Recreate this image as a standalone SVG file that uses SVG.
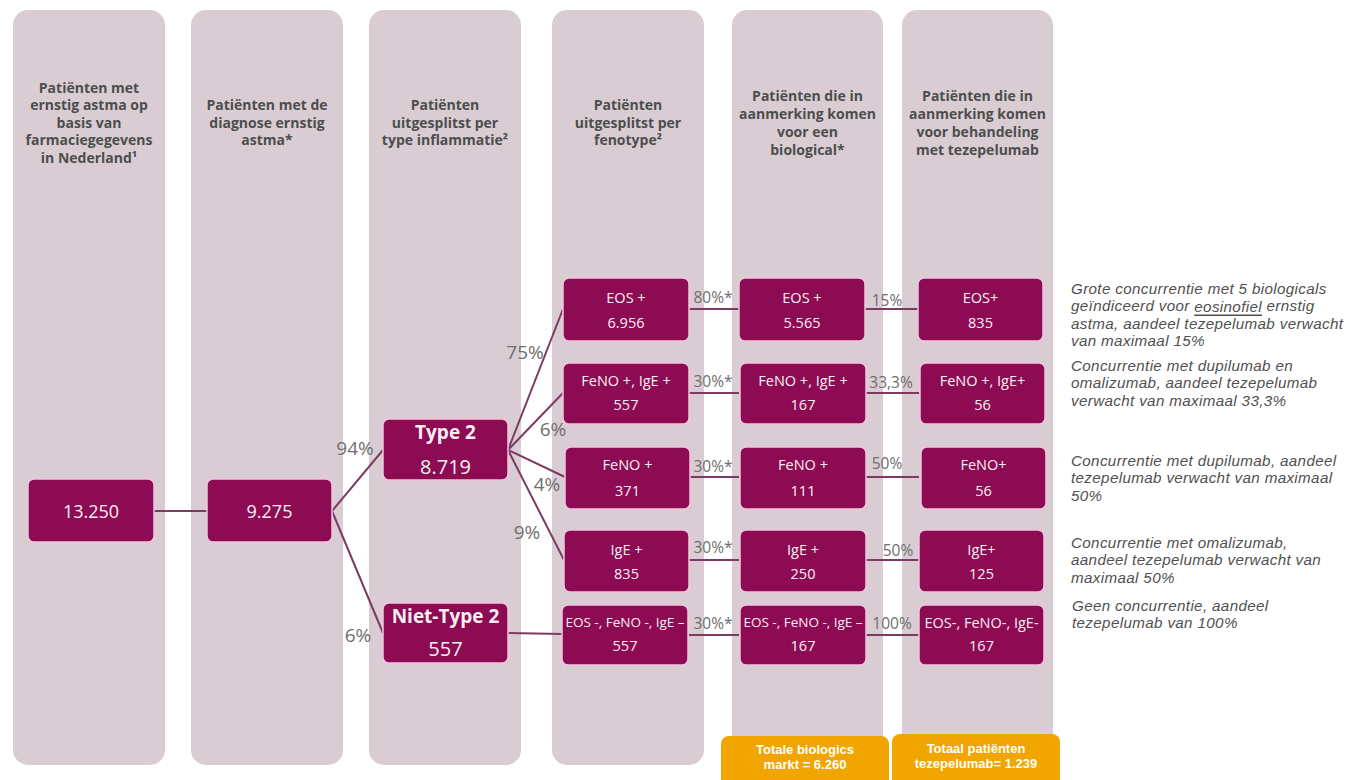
<svg xmlns="http://www.w3.org/2000/svg" width="1353" height="780" viewBox="0 0 1353 780">
<style>
.lane{fill:#D9CDD3}
.hdr{font-family:"Open Sans","DejaVu Sans",sans-serif;font-weight:bold;font-size:14px;fill:#4D4D4D;text-anchor:middle;dominant-baseline:central}
.box{fill:#8C0B52;stroke:#F2C4DF;stroke-width:1.5}
.nt{font-family:"Open Sans","DejaVu Sans",sans-serif;font-size:14.5px;fill:#FBEFF5;text-anchor:middle;dominant-baseline:central}
.sm{font-size:13.5px}
.big{font-size:18px}
.num{font-size:20px}
.b{font-weight:bold;font-size:19px}
.conn{stroke:#7E3A61;stroke-width:2;fill:none}
.pct{font-family:"Open Sans","DejaVu Sans",sans-serif;font-size:15.5px;fill:#6E6E6E;text-anchor:middle;dominant-baseline:central}
.pl{font-size:19px}
.note{font-family:"Liberation Sans","Open Sans",sans-serif;font-style:italic;font-size:15.2px;letter-spacing:0.35px;fill:#505050;dominant-baseline:central}
.tot{fill:#F0A500}
.tt{font-family:"Liberation Sans","Open Sans",sans-serif;font-weight:bold;font-size:13px;fill:#FFFFFF;text-anchor:middle;dominant-baseline:central}
</style>
<g id="lanes">
<rect class="lane" x="13" y="10" width="152" height="755" rx="15"/>
<rect class="lane" x="191" y="10" width="152" height="755" rx="15"/>
<rect class="lane" x="369" y="10" width="152" height="755" rx="15"/>
<rect class="lane" x="552" y="10" width="152" height="755" rx="15"/>
<rect class="lane" x="732" y="10" width="151" height="750" rx="15"/>
<rect class="lane" x="902" y="10" width="151" height="750" rx="15"/>
</g>
<g id="headers">
<text class="hdr" x="89" y="87">Patiënten met</text>
<text class="hdr" x="89" y="104.5">ernstig astma op</text>
<text class="hdr" x="89" y="122">basis van</text>
<text class="hdr" x="89" y="139.5">farmaciegegevens</text>
<text class="hdr" x="89" y="157">in Nederland¹</text>
<text class="hdr" x="267" y="104.5">Patiënten met de</text>
<text class="hdr" x="267" y="122">diagnose ernstig</text>
<text class="hdr" x="267" y="139.5">astma*</text>
<text class="hdr" x="445" y="104.5">Patiënten</text>
<text class="hdr" x="445" y="122">uitgesplitst per</text>
<text class="hdr" x="445" y="139.5">type inflammatie²</text>
<text class="hdr" x="628" y="104.5">Patiënten</text>
<text class="hdr" x="628" y="122">uitgesplitst per</text>
<text class="hdr" x="628" y="139.5">fenotype²</text>
<text class="hdr" x="807.5" y="95">Patiënten die in</text>
<text class="hdr" x="807.5" y="113">aanmerking komen</text>
<text class="hdr" x="807.5" y="131">voor een</text>
<text class="hdr" x="807.5" y="149">biological*</text>
<text class="hdr" x="977.5" y="95">Patiënten die in</text>
<text class="hdr" x="977.5" y="113">aanmerking komen</text>
<text class="hdr" x="977.5" y="131">voor behandeling</text>
<text class="hdr" x="977.5" y="149">met tezepelumab</text>
</g>
<g id="connectors">
<line class="conn" x1="154" y1="511" x2="207" y2="511"/>
<line class="conn" x1="332" y1="511" x2="383" y2="450"/>
<line class="conn" x1="332" y1="511" x2="383" y2="633"/>
<line class="conn" x1="508" y1="450" x2="563" y2="309"/>
<line class="conn" x1="508" y1="450" x2="563" y2="393"/>
<line class="conn" x1="508" y1="450" x2="565" y2="477"/>
<line class="conn" x1="508" y1="450" x2="564" y2="560"/>
<line class="conn" x1="508" y1="633" x2="563" y2="634"/>
<line class="conn" x1="689" y1="309" x2="739" y2="309"/>
<line class="conn" x1="689" y1="393" x2="739" y2="393"/>
<line class="conn" x1="689" y1="477" x2="739" y2="477"/>
<line class="conn" x1="689" y1="560" x2="739" y2="560"/>
<line class="conn" x1="689" y1="635" x2="739" y2="635"/>
<line class="conn" x1="865" y1="309" x2="919" y2="309"/>
<line class="conn" x1="865" y1="393" x2="919" y2="393"/>
<line class="conn" x1="865" y1="477" x2="919" y2="477"/>
<line class="conn" x1="865" y1="560" x2="919" y2="560"/>
<line class="conn" x1="865" y1="635" x2="919" y2="635"/>
<text class="pct pl" x="355" y="448">94%</text>
<text class="pct pl" x="358" y="635">6%</text>
<text class="pct pl" x="525" y="352">75%</text>
<text class="pct pl" x="553" y="429">6%</text>
<text class="pct pl" x="547" y="484">4%</text>
<text class="pct pl" x="527" y="532">9%</text>
<text class="pct" x="713" y="297">80%*</text>
<text class="pct" x="713" y="381">30%*</text>
<text class="pct" x="713" y="466">30%*</text>
<text class="pct" x="713" y="547">30%*</text>
<text class="pct" x="713" y="623">30%*</text>
<text class="pct" x="887" y="300">15%</text>
<text class="pct" x="891" y="382">33,3%</text>
<text class="pct" x="887" y="463">50%</text>
<text class="pct" x="898" y="550">50%</text>
<text class="pct" x="892" y="623">100%</text>
</g>
<g id="n-13250"><rect class="box" x="28" y="479" width="126" height="63" rx="6"/><text class="nt big" x="91" y="510.5">13.250</text></g>
<g id="n-9275"><rect class="box" x="207" y="479" width="125" height="63" rx="6"/><text class="nt big" x="269.5" y="510.5">9.275</text></g>
<g id="n-type2"><rect class="box" x="383" y="419" width="125" height="61" rx="6"/><text class="nt b" x="445.5" y="432">Type 2</text><text class="nt num" x="445.5" y="466">8.719</text></g>
<g id="n-niettype2"><rect class="box" x="383" y="603" width="125" height="60" rx="6"/><text class="nt b" x="445.5" y="616">Niet-Type 2</text><text class="nt num" x="445.5" y="648">557</text></g>
<g id="n-c4-eos"><rect class="box" x="563" y="278" width="126" height="63" rx="6"/><text class="nt" x="626" y="297">EOS +</text><text class="nt" x="626" y="322">6.956</text></g>
<g id="n-c4-fenoige"><rect class="box" x="563" y="363" width="126" height="61" rx="6"/><text class="nt" x="626" y="380">FeNO +, IgE +</text><text class="nt" x="626" y="404">557</text></g>
<g id="n-c4-feno"><rect class="box" x="565" y="447" width="125" height="62" rx="6"/><text class="nt" x="627.5" y="464">FeNO +</text><text class="nt" x="627.5" y="490">371</text></g>
<g id="n-c4-ige"><rect class="box" x="564" y="530" width="125" height="62" rx="6"/><text class="nt" x="626.5" y="549">IgE +</text><text class="nt" x="626.5" y="573">835</text></g>
<g id="n-c4-neg"><rect class="box" x="562" y="605" width="126" height="60" rx="6"/><text class="nt sm" x="625" y="622">EOS -, FeNO -, IgE –</text><text class="nt" x="625" y="645">557</text></g>
<g id="n-c5-eos"><rect class="box" x="739" y="278" width="126" height="63" rx="6"/><text class="nt" x="802" y="297">EOS +</text><text class="nt" x="802" y="322">5.565</text></g>
<g id="n-c5-fenoige"><rect class="box" x="740" y="363" width="126" height="61" rx="6"/><text class="nt" x="803" y="380">FeNO +, IgE +</text><text class="nt" x="803" y="404">167</text></g>
<g id="n-c5-feno"><rect class="box" x="740" y="447" width="126" height="62" rx="6"/><text class="nt" x="803" y="464">FeNO +</text><text class="nt" x="803" y="490">111</text></g>
<g id="n-c5-ige"><rect class="box" x="740" y="530" width="126" height="62" rx="6"/><text class="nt" x="803" y="549">IgE +</text><text class="nt" x="803" y="573">250</text></g>
<g id="n-c5-neg"><rect class="box" x="740" y="605" width="126" height="60" rx="6"/><text class="nt sm" x="803" y="622">EOS -, FeNO -, IgE –</text><text class="nt" x="803" y="645">167</text></g>
<g id="n-c6-eos"><rect class="box" x="918" y="278" width="125" height="63" rx="6"/><text class="nt" x="980.5" y="297">EOS+</text><text class="nt" x="980.5" y="322">835</text></g>
<g id="n-c6-fenoige"><rect class="box" x="920" y="363" width="125" height="61" rx="6"/><text class="nt" x="982.5" y="380">FeNO +, IgE+</text><text class="nt" x="982.5" y="404">56</text></g>
<g id="n-c6-feno"><rect class="box" x="921" y="447" width="125" height="62" rx="6"/><text class="nt" x="983.5" y="464">FeNO+</text><text class="nt" x="983.5" y="490">56</text></g>
<g id="n-c6-ige"><rect class="box" x="919" y="530" width="125" height="62" rx="6"/><text class="nt" x="981.5" y="549">IgE+</text><text class="nt" x="981.5" y="573">125</text></g>
<g id="n-c6-neg"><rect class="box" x="919" y="605" width="125" height="60" rx="6"/><text class="nt" x="981.5" y="622">EOS-, FeNO-, IgE-</text><text class="nt" x="981.5" y="645">167</text></g>
<g id="notes">
<text class="note" x="1071" y="288">Grote concurrentie met 5 biologicals</text>
<text class="note" x="1071" y="305.5">geïndiceerd voor <tspan text-decoration="underline">eosinofiel</tspan> ernstig</text>
<text class="note" x="1071" y="323">astma, aandeel tezepelumab verwacht</text>
<text class="note" x="1071" y="340.5">van maximaal 15%</text>
<text class="note" x="1071" y="365">Concurrentie met dupilumab en</text>
<text class="note" x="1071" y="382.5">omalizumab, aandeel tezepelumab</text>
<text class="note" x="1071" y="400">verwacht van maximaal 33,3%</text>
<text class="note" x="1071" y="460">Concurrentie met dupilumab, aandeel</text>
<text class="note" x="1071" y="477.5">tezepelumab verwacht van maximaal</text>
<text class="note" x="1071" y="495">50%</text>
<text class="note" x="1071" y="542">Concurrentie met omalizumab,</text>
<text class="note" x="1071" y="559.5">aandeel tezepelumab verwacht van</text>
<text class="note" x="1071" y="577">maximaal 50%</text>
<text class="note" x="1072" y="605">Geen concurrentie, aandeel</text>
<text class="note" x="1072" y="622.5">tezepelumab van 100%</text>
</g>
<g id="total-biologics"><rect class="tot" x="721" y="736" width="168" height="54" rx="8"/><text class="tt" x="805" y="749.5">Totale biologics</text><text class="tt" x="805" y="764.5">markt = 6.260</text></g>
<g id="total-tezepelumab"><rect class="tot" x="892" y="734" width="168" height="56" rx="8"/><text class="tt" x="976" y="748.5">Totaal patiënten</text><text class="tt" x="976" y="763.5">tezepelumab= 1.239</text></g>
</svg>
